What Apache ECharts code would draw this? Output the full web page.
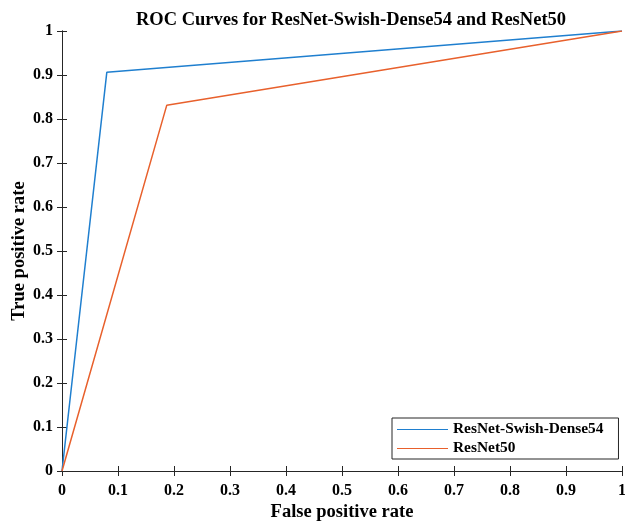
<!DOCTYPE html>
<html>
<head>
<meta charset="utf-8">
<script src="https://cdn.jsdelivr.net/npm/echarts@6/dist/echarts.min.js"></script>
<style>
  html, body { margin: 0; padding: 0; background: #fff; }
  #chart { width: 625px; height: 524px; }
</style>
</head>
<body>
<div id="chart"></div>
<script>
// ROC operating points (false positive rate, true positive rate)
const seriesNames = ['ResNet-Swish-Dense54', 'ResNet50'];
const swishFpr = [0, 0.080, 1];
const swishTpr = [0, 0.906, 1];
const resnetFpr = [0, 0.187, 1];
const resnetTpr = [0, 0.831, 1];
const tickValues = [0, 0.1, 0.2, 0.3, 0.4, 0.5, 0.6, 0.7, 0.8, 0.9, 1];

const FONT = '"Liberation Serif", "Times New Roman", serif';
const AXIS_COLOR = '#262626';

function pairs(xs, ys) { return xs.map((x, i) => [x, ys[i]]); }
function tickText(v) {
  const hit = tickValues.find(t => Math.abs(t - v) < 1e-9);
  const t = hit === undefined ? v : hit;
  return Math.abs(t - Math.round(t)) < 1e-9 ? String(Math.round(t)) : t.toFixed(1);
}

const baseAxis = {
  type: 'value', min: 0, max: 1, interval: 0.1,
  axisLine: { show: true, lineStyle: { color: AXIS_COLOR, width: 1 } },
  axisTick: { show: true, inside: true, length: 5, lineStyle: { color: AXIS_COLOR } },
  splitLine: { show: false }
};

const chart = echarts.init(document.getElementById('chart'), null, { renderer: 'canvas' });
chart.setOption({
  animation: false,
  backgroundColor: '#fff',
  title: {
    text: 'ROC Curves for ResNet-Swish-Dense54 and ResNet50',
    left: 346, top: 6, textAlign: 'center',
    textStyle: { fontFamily: FONT, fontWeight: 'bold', fontSize: 18.5, color: '#000' }
  },
  grid: { left: 62, right: 3, top: 31, bottom: 53, containLabel: false, outerBoundsMode: 'none' },
  legend: {
    data: seriesNames,
    orient: 'vertical',
    left: 392, bottom: 65,
    itemWidth: 51, itemHeight: 10, itemGap: 4,
    padding: [4, 15, 3, 5],
    borderColor: '#262626', borderWidth: 1,
    backgroundColor: '#fff',
    icon: 'path://M0,5L51,5L51,6L0,6Z',
    textStyle: { fontFamily: FONT, fontWeight: 'bold', fontSize: 15.4, color: '#000' }
  },
  xAxis: [
    Object.assign({}, baseAxis, {
      position: 'bottom',
      name: 'False positive rate', nameLocation: 'middle', nameGap: 32,
      nameMoveOverlap: false,
      nameTextStyle: { fontFamily: FONT, fontWeight: 'bold', fontSize: 18.5, color: '#000' },
      axisLabel: { fontFamily: FONT, fontWeight: 'bold', fontSize: 16, color: '#000', margin: 12,
        formatter: tickText }
    }),
    Object.assign({}, baseAxis, { position: 'top', axisLabel: { show: false } })
  ],
  yAxis: [
    Object.assign({}, baseAxis, {
      position: 'left',
      name: 'True positive rate', nameLocation: 'middle', nameGap: 33,
      nameMoveOverlap: false,
      nameTextStyle: { fontFamily: FONT, fontWeight: 'bold', fontSize: 18.5, color: '#000' },
      axisLabel: { fontFamily: FONT, fontWeight: 'bold', fontSize: 16, color: '#000', margin: 9,
        formatter: tickText }
    }),
    Object.assign({}, baseAxis, { position: 'right', axisLabel: { show: false } })
  ],
  series: [
    {
      name: seriesNames[0], type: 'line', xAxisIndex: 0, yAxisIndex: 0,
      data: pairs(swishFpr, swishTpr), showSymbol: false, symbol: 'none',
      lineStyle: { color: '#1f7fcf', width: 1.5 }, itemStyle: { color: '#1f7fcf' }, z: 3
    },
    {
      name: seriesNames[1], type: 'line', xAxisIndex: 0, yAxisIndex: 0,
      data: pairs(resnetFpr, resnetTpr), showSymbol: false, symbol: 'none',
      lineStyle: { color: '#E8602C', width: 1.5 }, itemStyle: { color: '#E8602C' }, z: 3
    }
  ]
});
</script>
</body>
</html>
